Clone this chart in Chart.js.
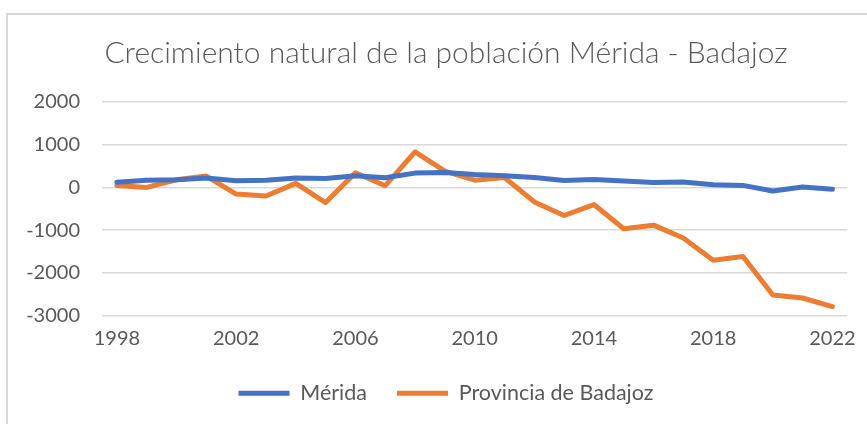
<!DOCTYPE html>
<html>
<head>
<meta charset="utf-8">
<script src="https://cdn.jsdelivr.net/npm/chart.js@4"></script>
<style>
  html, body { margin: 0; padding: 0; background: #fff; }
  #frame { position: absolute; left: 6px; top: 13px; width: 880px; height: 430px; border: 2px solid #d9d9d9; }
  #wrap { position: absolute; left: 0; top: 0; width: 867px; height: 424px; }
</style>
</head>
<body>
<div id="frame"></div>
<div id="wrap"><canvas id="myChart"></canvas></div>
<script>
// años 1998-2022
const years = ['1998','1999','2000','2001','2002','2003','2004','2005','2006','2007','2008','2009','2010',
  '2011','2012','2013','2014','2015','2016','2017','2018','2019','2020','2021','2022']
const merida = [120,170,180,220,155,170,218,210,272,225,335,350,300,
  272,233,163,187,148,116,124,62,47,-85,8,-46]
const badajoz = [47,0,180,265,-155,-200,93,-356,342,40,830,381,170,
  233,-340,-658,-402,-968,-884,-1186,-1705,-1620,-2519,-2590,-2790]
const yTicks = [-3000,-2000,-1000,0,1000,2000]

const grey = '#595959'
const font = { family: 'Lato', size: 20 }

// el marco original es mas ancho: centrar titulo y leyenda como en el original
const shiftBlocks = {
  id: 'shiftBlocks',
  afterLayout(chart) {
    if (chart.titleBlock) chart.titleBlock.left += 44
    if (chart.legend) chart.legend.left += 44
  }
}

const chr = document.getElementById('myChart')
new Chart(chr, {
  type: 'line',
  data: {
    labels: years,
    datasets: [
      { label: 'Mérida', data: merida, borderColor: '#4472C4', backgroundColor: '#4472C4',
        borderWidth: 5, pointRadius: 0, tension: 0, borderCapStyle: 'round', borderJoinStyle: 'round' },
      { label: 'Provincia de Badajoz', data: badajoz, borderColor: '#ED7D31', backgroundColor: '#ED7D31',
        borderWidth: 5, pointRadius: 0, tension: 0, borderCapStyle: 'round', borderJoinStyle: 'round' }
    ]
  },
  plugins: [shiftBlocks],
  options: {
    responsive: true,
    maintainAspectRatio: false,
    animation: false,
    layout: { padding: { left: 0, right: 19, top: 0, bottom: 10 } },
    plugins: {
      title: {
        display: true,
        text: 'Crecimiento natural de la población Mérida - Badajoz',
        color: grey,
        font: { family: 'Lato', size: 30, weight: 300 },
        padding: { top: 35, bottom: 31 }
      },
      legend: {
        position: 'bottom',
        labels: {
          color: grey, font: { family: 'Lato', size: 21.5 },
          usePointStyle: true, pointStyle: 'line', pointStyleWidth: 51,
          padding: 30
        }
      },
      tooltip: { enabled: false }
    },
    scales: {
      x: {
        offset: true,
        grid: { display: false, drawTicks: false },
        border: { display: false },
        afterFit: function(axis) { axis.height = 37 },
        ticks: {
          color: grey, font: font, maxRotation: 0, autoSkip: false, padding: 11,
          callback: function(v, i) { return i % 4 === 0 ? years[i] : null }
        }
      },
      y: {
        min: -3000, max: 2000,
        afterBuildTicks: function(axis) { axis.ticks = yTicks.map(v => ({ value: v })) },
        afterFit: function(axis) { axis.width = 102 },
        grid: { color: '#d9d9d9', lineWidth: 1.5, drawTicks: false },
        border: { display: false },
        ticks: { color: grey, font: font, padding: 22, callback: v => String(v) }
      }
    }
  }
})
</script>
</body>
</html>
